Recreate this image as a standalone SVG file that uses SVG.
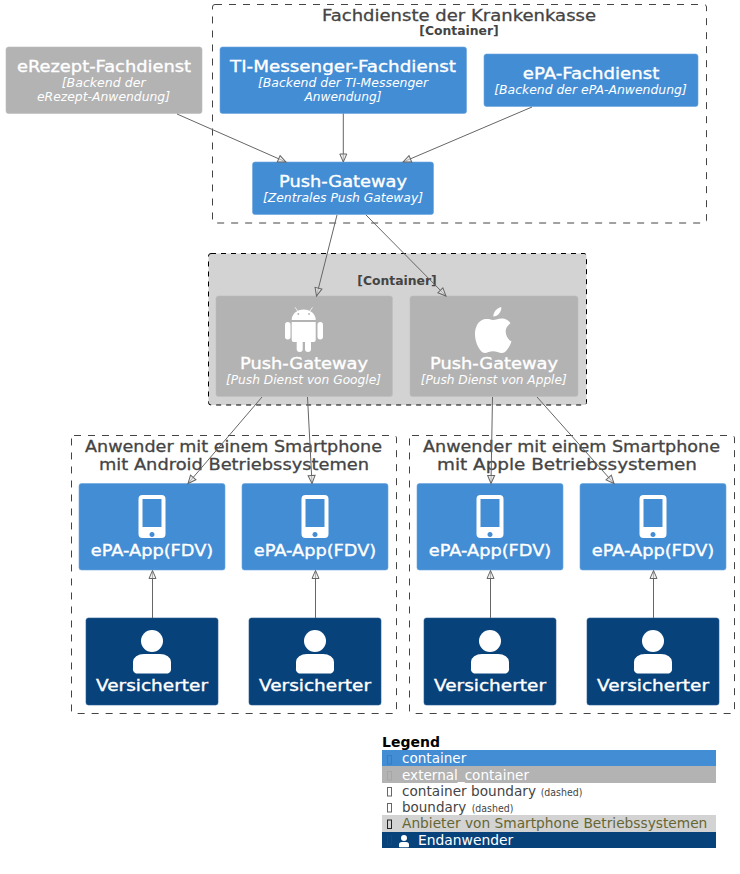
<svg xmlns="http://www.w3.org/2000/svg" width="740" height="874" viewBox="0 0 740 874">
<style>
text{font-family:"DejaVu Sans",sans-serif;text-anchor:middle}
.bd{fill:none;stroke:#444444;stroke-width:1;stroke-dasharray:7 7}
.bg{fill:#D3D3D3;stroke:#000000;stroke-width:1;stroke-dasharray:5 5}
.bt{fill:#444444;font-size:16px;stroke:#444444;stroke-width:.3}
.bs{fill:#444444;font-size:12px;font-weight:bold}
.c{fill:#438DD5;stroke:#6AA5DE;stroke-width:.6}
.x{fill:#B3B3B3;stroke:#BDBDBD;stroke-width:.6}
.p{fill:#08427B;stroke:#2A5C92;stroke-width:.6}
.n{fill:#FFFFFF;font-size:16px;stroke:#FFFFFF;stroke-width:.35}
.d{fill:#FFFFFF;font-size:12px;font-style:italic}
.ic{fill:#FFFFFF}
.e{fill:none;stroke:#666666;stroke-width:1;marker-end:url(#a)}
.l{font-size:14px;text-anchor:start}
.s{font-size:10px;text-anchor:start;fill:#444444}
.t{fill:none;stroke-width:1}
</style>
<defs>
<marker id="a" markerUnits="userSpaceOnUse" markerWidth="12" markerHeight="12" refX="9" refY="5" orient="auto">
<path d="M1 1.500L9 5L1 8.500Z" fill="#E4E4E4" fill-opacity=".6" stroke="#666666" stroke-width="1"/>
</marker>
<g id="phone">
<path class="ic" fill-rule="evenodd" d="M-11 -21.500h19a4 4 0 0 1 4 4v35a4 4 0 0 1-4 4h-19a4 4 0 0 1-4-4v-35a4 4 0 0 1 4-4ZM-11 -17.500v28h19v-28ZM-1.500 15.500a2.500 2.500 0 1 0 .01 0Z" transform="translate(1.500 0)"/>
</g>
<g id="person">
<circle class="ic" cx="0" cy="0" r="11"/>
<path class="ic" d="M-19 27v-6a11 8 0 0 1 11-8h16a11 8 0 0 1 11 8v6a5 5 0 0 1-3 5.500h-32a5 5 0 0 1-3-5.500Z"/>
</g>
</defs>

<g id="boundary-fachdienste">
<rect class="bd" x="212.500" y="4.500" width="494" height="218.500" rx="2.500"/>
<text class="bt" x="459" y="21" textLength="274" lengthAdjust="spacingAndGlyphs">Fachdienste der Krankenkasse</text>
<text class="bs" x="459" y="35" textLength="79.500" lengthAdjust="spacingAndGlyphs">[Container]</text>
</g>
<g id="boundary-anbieter">
<rect class="bg" x="208.500" y="253.500" width="378" height="151.500" rx="2.500"/>
<text class="bs" x="397" y="284.500" textLength="79.500" lengthAdjust="spacingAndGlyphs">[Container]</text>
</g>
<g id="boundary-android">
<rect class="bd" x="71.500" y="435.500" width="325" height="278" rx="2.500"/>
<text class="bt" x="233.500" y="451.500" textLength="297" lengthAdjust="spacingAndGlyphs">Anwender mit einem Smartphone</text>
<text class="bt" x="234" y="469.500" textLength="270" lengthAdjust="spacingAndGlyphs">mit Android Betriebssystemen</text>
</g>
<g id="boundary-apple">
<rect class="bd" x="409.500" y="435.500" width="325" height="278" rx="2.500"/>
<text class="bt" x="571.500" y="451.500" textLength="297" lengthAdjust="spacingAndGlyphs">Anwender mit einem Smartphone</text>
<text class="bt" x="567" y="469.500" textLength="260" lengthAdjust="spacingAndGlyphs">mit Apple Betriebssystemen</text>
</g>

<g id="erezept">
<rect class="x" x="6" y="47" width="196" height="66.500" rx="2.500"/>
<text class="n" x="104" y="72" textLength="174" lengthAdjust="spacingAndGlyphs">eRezept-Fachdienst</text>
<text class="d" x="103.700" y="87" textLength="84" lengthAdjust="spacingAndGlyphs">[Backend der</text>
<text class="d" x="103.500" y="101" textLength="133" lengthAdjust="spacingAndGlyphs">eRezept-Anwendung]</text>
</g>
<g id="ti-messenger">
<rect class="c" x="220" y="47" width="246.500" height="66.500" rx="2.500"/>
<text class="n" x="343" y="72" textLength="226" lengthAdjust="spacingAndGlyphs">TI-Messenger-Fachdienst</text>
<text class="d" x="343" y="87" textLength="170" lengthAdjust="spacingAndGlyphs">[Backend der TI-Messenger</text>
<text class="d" x="343" y="101" textLength="77" lengthAdjust="spacingAndGlyphs">Anwendung]</text>
</g>
<g id="epa-fachdienst">
<rect class="c" x="484" y="54" width="214" height="52.500" rx="2.500"/>
<text class="n" x="591" y="79" textLength="136.500" lengthAdjust="spacingAndGlyphs">ePA-Fachdienst</text>
<text class="d" x="590.500" y="94" textLength="192.500" lengthAdjust="spacingAndGlyphs">[Backend der ePA-Anwendung]</text>
</g>
<g id="push-gateway">
<rect class="c" x="252.500" y="162" width="181" height="52.500" rx="2.500"/>
<text class="n" x="343" y="187" textLength="128" lengthAdjust="spacingAndGlyphs">Push-Gateway</text>
<text class="d" x="343" y="202" textLength="160" lengthAdjust="spacingAndGlyphs">[Zentrales Push Gateway]</text>
</g>
<g id="push-google">
<rect class="x" x="216" y="296" width="176.500" height="100.500" rx="2.500"/>
<path class="ic" d="M291.700 320a12 10.500 0 0 1 24 0Z"/>
<path class="ic" d="M291.700 322h24v18a2 2 0 0 1-2 2h-20a2 2 0 0 1-2-2Z"/>
<rect class="ic" x="285" y="322" width="5.500" height="17.500" rx="2.700"/>
<rect class="ic" x="317.500" y="322" width="5.500" height="17.500" rx="2.700"/>
<rect class="ic" x="296.700" y="340" width="6" height="12" rx="3"/>
<rect class="ic" x="305" y="340" width="6" height="12" rx="3"/>
<circle cx="298.300" cy="314" r=".9" fill="#B3B3B3"/>
<circle cx="309" cy="314" r=".9" fill="#B3B3B3"/>
<path d="M298 311.500L295 307.300M309.500 311.500L312.500 307.300" stroke="#FFFFFF" stroke-width=".8" fill="none"/>
<text class="n" x="304" y="369" textLength="128" lengthAdjust="spacingAndGlyphs">Push-Gateway</text>
<text class="d" x="303.500" y="384" textLength="155" lengthAdjust="spacingAndGlyphs">[Push Dienst von Google]</text>
</g>
<g id="push-apple">
<rect class="x" x="410" y="296" width="168" height="100.500" rx="2.500"/>
<path class="ic" d="M493 320C496 320 499 318 503 318.500C506.500 319 509 320.800 510.500 323.300C507 325.500 505.500 328.500 505.700 331.700C506 336 508 339.500 511.500 341.500C510 345.500 508 349.500 505 352C502.500 353.800 500 353 497.500 352C494.500 351 491.500 351 488.500 352C486 353 483.500 353.800 481 351C477 346.500 475 340 475 334C475 326.500 478.500 320.800 484 319.300C487.500 318.500 490 319.500 493 320Z"/>
<path class="ic" d="M493.300 316.500C493.300 312 497 307.800 501.300 307C501.700 311.500 498 316.500 493.300 316.500Z"/>
<text class="n" x="494" y="369" textLength="128" lengthAdjust="spacingAndGlyphs">Push-Gateway</text>
<text class="d" x="493.700" y="384" textLength="146" lengthAdjust="spacingAndGlyphs">[Push Dienst von Apple]</text>
</g>

<g id="app-a1">
<rect class="c" x="79" y="483.500" width="146" height="86.500" rx="2.500"/>
<use href="#phone" x="152" y="516.500"/>
<text class="n" x="152" y="555.500" textLength="122.500" lengthAdjust="spacingAndGlyphs">ePA-App(FDV)</text>
</g>
<g id="app-a2">
<rect class="c" x="242" y="483.500" width="146" height="86.500" rx="2.500"/>
<use href="#phone" x="315" y="516.500"/>
<text class="n" x="315" y="555.500" textLength="122.500" lengthAdjust="spacingAndGlyphs">ePA-App(FDV)</text>
</g>
<g id="app-b1">
<rect class="c" x="417" y="483.500" width="146" height="86.500" rx="2.500"/>
<use href="#phone" x="490" y="516.500"/>
<text class="n" x="490" y="555.500" textLength="122.500" lengthAdjust="spacingAndGlyphs">ePA-App(FDV)</text>
</g>
<g id="app-b2">
<rect class="c" x="580" y="483.500" width="146" height="86.500" rx="2.500"/>
<use href="#phone" x="653" y="516.500"/>
<text class="n" x="653" y="555.500" textLength="122.500" lengthAdjust="spacingAndGlyphs">ePA-App(FDV)</text>
</g>

<g id="user-a1">
<rect class="p" x="86" y="618" width="132" height="87" rx="2.500"/>
<use href="#person" x="152" y="641"/>
<text class="n" x="152" y="691" textLength="112" lengthAdjust="spacingAndGlyphs">Versicherter</text>
</g>
<g id="user-a2">
<rect class="p" x="249" y="618" width="132" height="87" rx="2.500"/>
<use href="#person" x="315" y="641"/>
<text class="n" x="315" y="691" textLength="112" lengthAdjust="spacingAndGlyphs">Versicherter</text>
</g>
<g id="user-b1">
<rect class="p" x="424" y="618" width="132" height="87" rx="2.500"/>
<use href="#person" x="490" y="641"/>
<text class="n" x="490" y="691" textLength="112" lengthAdjust="spacingAndGlyphs">Versicherter</text>
</g>
<g id="user-b2">
<rect class="p" x="587" y="618" width="132" height="87" rx="2.500"/>
<use href="#person" x="653" y="641"/>
<text class="n" x="653" y="691" textLength="112" lengthAdjust="spacingAndGlyphs">Versicherter</text>
</g>

<g id="connectors">
<path class="e" d="M177 114L286 162"/>
<path class="e" d="M343.300 113.500V162"/>
<path class="e" d="M532 107L403 162"/>
<path class="e" d="M337 215L316.500 296"/>
<path class="e" d="M366 215L446 296"/>
<path class="e" d="M262 397L188 483.500"/>
<path class="e" d="M307.500 397L312 483.500"/>
<path class="e" d="M492.500 397L491 483.500"/>
<path class="e" d="M537 397L614 483.500"/>
<path class="e" d="M152.500 618V570.500"/>
<path class="e" d="M315.500 618V570.500"/>
<path class="e" d="M490.500 618V570.500"/>
<path class="e" d="M653.500 618V570.500"/>
</g>

<g id="legend">
<text x="382" y="747" style="font-size:14px;font-weight:bold;text-anchor:start;fill:#000000">Legend</text>
<rect x="382" y="750" width="334" height="16" fill="#438DD5"/>
<rect x="382" y="766" width="334" height="17" fill="#B3B3B3"/>
<rect x="382" y="815" width="334" height="17" fill="#D3D3D3"/>
<rect x="382" y="832" width="334" height="16" fill="#08427B"/>
<rect class="t" x="387.500" y="755.500" width="4" height="8.500" stroke="#3A7DBE"/>
<rect class="t" x="387.500" y="771.500" width="4" height="8.500" stroke="#A6A6A6"/>
<rect class="t" x="387.500" y="787.500" width="4" height="8.500" stroke="#666666"/>
<rect class="t" x="387.500" y="803.500" width="4" height="8.500" stroke="#666666"/>
<rect class="t" x="387.500" y="820" width="4" height="8.500" stroke="#222222"/>
<rect class="t" x="387.500" y="836" width="4" height="8.500" stroke="#0A4A88"/>
<text class="l" x="402" y="763" fill="#FFFFFF" textLength="64.300" lengthAdjust="spacingAndGlyphs">container</text>
<text class="l" x="402" y="780" fill="#FFFFFF" textLength="127" lengthAdjust="spacingAndGlyphs">external_container</text>
<text class="l" x="402" y="796" fill="#444444" textLength="134" lengthAdjust="spacingAndGlyphs">container boundary</text>
<text class="s" x="540.700" y="796" textLength="41.700" lengthAdjust="spacingAndGlyphs">(dashed)</text>
<text class="l" x="402" y="812" fill="#444444" textLength="64.300" lengthAdjust="spacingAndGlyphs">boundary</text>
<text class="s" x="471.700" y="812" textLength="41.700" lengthAdjust="spacingAndGlyphs">(dashed)</text>
<text class="l" x="402" y="828" fill="#666633" textLength="305.300" lengthAdjust="spacingAndGlyphs">Anbieter von Smartphone Betriebssystemen</text>
<circle class="ic" cx="404" cy="838" r="3"/>
<path class="ic" d="M399 846.500v-2a3 2.500 0 0 1 3-2.500h4a3 2.500 0 0 1 3 2.500v2a.8.8 0 0 1-.8.8h-8.400a.8.8 0 0 1-.8-.8Z"/>
<text class="l" x="418" y="845" fill="#FFFFFF" textLength="95.300" lengthAdjust="spacingAndGlyphs">Endanwender</text>
</g>
</svg>
